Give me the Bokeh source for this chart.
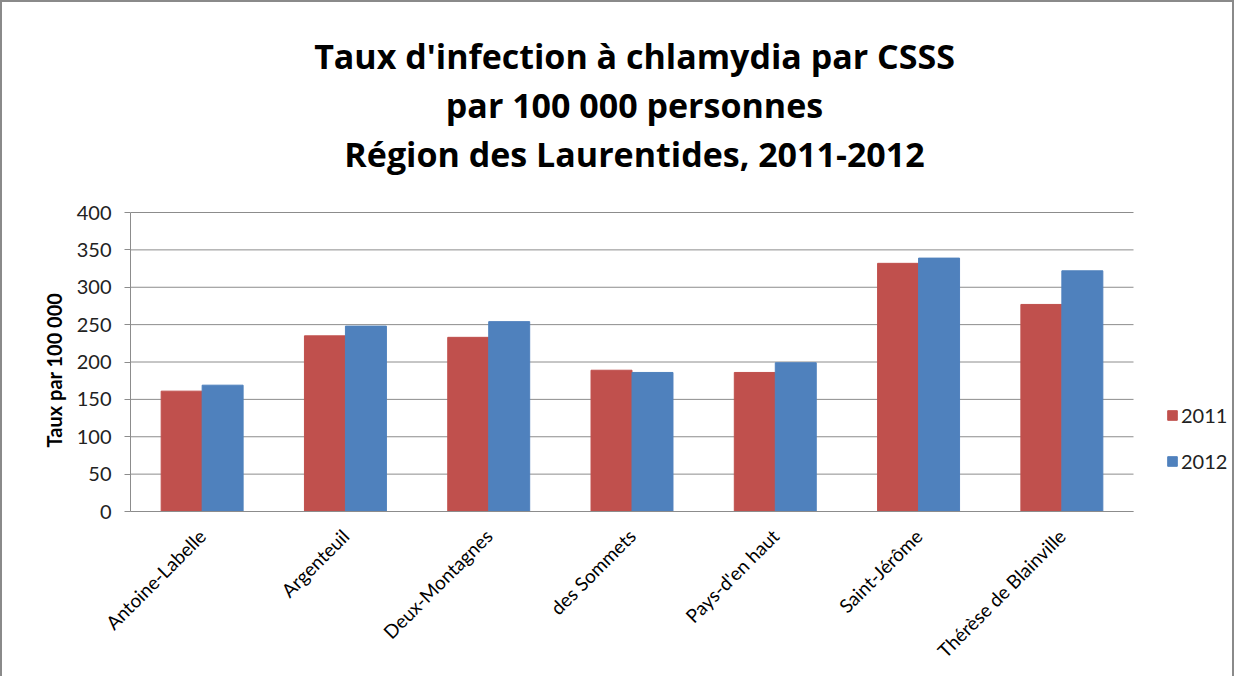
from bokeh.plotting import figure
from bokeh.models import (ColumnDataSource, Range1d, FixedTicker, Label, Title,
                          Legend, LegendItem)
from bokeh.embed import file_html
from bokeh.resources import INLINE
import math

categories = ["Antoine-Labelle", "Argenteuil", "Deux-Montagnes", "des Sommets",
              "Pays-d'en haut", "Saint-Jérôme", "Thérèse de Blainville"]
rate_2011 = [161, 235, 233, 189, 186, 332, 277]
rate_2012 = [169, 248, 254, 186, 199, 339, 322]
y_ticks = [0, 50, 100, 150, 200, 250, 300, 350, 400]
title_lines = ["Taux d'infection à chlamydia par CSSS",
               "par 100 000 personnes",
               "Région des Laurentides, 2011-2012"]
y_label = "Taux par 100 000"
series_names = ["2011", "2012"]

RED = "#C0504D"
BLUE = "#4F81BD"
GRID = "#8C8C8C"
FONT = "Lato"
TFONT = "Open Sans"

# canvas layout (pixels)
W, H = 1234, 676
LEFT = 128           # plot-area left
RIGHT = 1131         # plot-area right (end of categories)
TOP = 210            # value 400
BOTTOM = 509         # value 0

n = len(categories)
ymax = y_ticks[-1]
x_end = n * (W - LEFT) / (RIGHT - LEFT)
y_end = ymax * BOTTOM / (BOTTOM - TOP)

bw = 0.286
centers = [i + 0.5 for i in range(n)]
src = ColumnDataSource(dict(
    x1=[c - bw / 2 for c in centers], x2=[c + bw / 2 for c in centers],
    y2011=rate_2011, y2012=rate_2012))

p = figure(title=None, x_range=Range1d(0, x_end), y_range=Range1d(0, y_end),
           width=W, height=H,
           min_border_left=LEFT, min_border_right=0,
           min_border_top=0, min_border_bottom=H - BOTTOM,
           output_backend="svg", toolbar_location=None,
           background_fill_color="white", border_fill_color="white")
p.styles = {"border-top": "2px solid #8a8a8a", "border-left": "2px solid #8a8a8a",
            "border-right": "2px solid #8a8a8a"}
p.outline_line_color = None
p.xgrid.grid_line_color = None
p.ygrid.grid_line_color = None

# horizontal gridlines across the category area only
p.segment(x0=[0] * len(y_ticks), x1=[n] * len(y_ticks), y0=y_ticks, y1=y_ticks,
          line_color=GRID, line_width=1)

r1 = p.vbar(x="x1", top="y2011", width=bw, source=src, fill_color=RED, line_color=RED)
r2 = p.vbar(x="x2", top="y2012", width=bw, source=src, fill_color=BLUE, line_color=BLUE)

# y axis
p.yaxis.bounds = (0, ymax)
p.yaxis.ticker = FixedTicker(ticks=y_ticks)
p.yaxis.minor_tick_line_color = None
p.yaxis.major_tick_out = 6
p.yaxis.major_tick_in = 0
p.yaxis.major_tick_line_color = GRID
p.yaxis.axis_line_color = GRID
p.yaxis.major_label_text_font = FONT
p.yaxis.major_label_text_font_size = "20px"
p.yaxis.major_label_text_color = "#222222"
p.yaxis.major_label_standoff = 13

# y axis title: starts 64px above the frame bottom and reads upward
p.add_layout(Title(text=y_label, align="left", offset=64,
                   standoff=16, text_font=FONT, text_font_style="bold",
                   text_font_size="20px", text_color="#000000"), "left")

# x axis (categories)
p.xaxis.bounds = (0, n)
p.xaxis.ticker = FixedTicker(ticks=centers)
p.xaxis.major_label_overrides = {c: name for c, name in zip(centers, categories)}
p.xaxis.major_tick_line_color = None
p.xaxis.minor_tick_line_color = None
p.xaxis.axis_line_color = GRID
p.xaxis.major_label_orientation = math.pi / 4
p.xaxis.major_label_text_font = FONT
p.xaxis.major_label_text_font_size = "19px"
p.xaxis.major_label_text_color = "#000000"
p.xaxis.major_label_standoff = 15

# title lines (screen units, relative to plot frame bottom-left)
title_x = 504
title_y = [BOTTOM - 53, BOTTOM - 102, BOTTOM - 151]
for txt, ty in zip(title_lines, title_y):
    p.add_layout(Label(x=title_x, y=ty, x_units="screen", y_units="screen", text=txt,
                       text_align="center", text_baseline="middle",
                       text_font=TFONT, text_font_style="bold",
                       text_font_size="34px", text_color="#000000"))

legend = Legend(items=[LegendItem(label=series_names[0], renderers=[r1]),
                       LegendItem(label=series_names[1], renderers=[r2])],
                location=(1164 - LEFT, 38), orientation="vertical",
                glyph_width=12, glyph_height=12, label_height=20,
                spacing=22, padding=0, margin=0,
                label_text_font=FONT, label_text_font_size="20px",
                label_text_color="#222222", label_standoff=3,
                border_line_color=None, background_fill_alpha=0)
p.add_layout(legend)

open("out.html", "w").write(file_html(p, INLINE))
